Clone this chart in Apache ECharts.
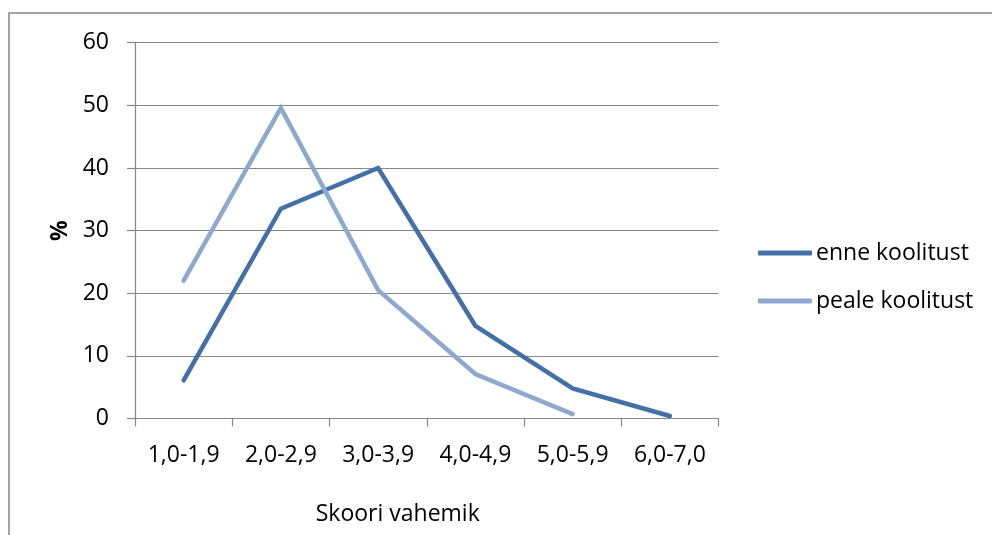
<!DOCTYPE html>
<html>
<head>
<meta charset="utf-8">
<script src="https://cdn.jsdelivr.net/npm/echarts@6/dist/echarts.min.js"></script>
<style>
  html, body { margin: 0; padding: 0; background: #ffffff; }
  #chart { width: 992px; height: 535px; }
</style>
</head>
<body>
<div id="chart"></div>
<script>
// Score ranges and the share (%) of respondents in each range
const categories = ['1,0-1,9', '2,0-2,9', '3,0-3,9', '4,0-4,9', '5,0-5,9', '6,0-7,0'];
const enneKoolitust = [6.1, 33.5, 40.0, 14.8, 4.8, 0.4];
const pealeKoolitust = [22.0, 49.6, 20.5, 7.1, 0.7, null];
const seriesNames = ['enne koolitust', 'peale koolitust'];
const yTicks = { min: 0, max: 60, interval: 10 };

const FONT = '"Open Sans", "Liberation Sans", sans-serif';
const FS = 23;
const GREY = '#878787';

const chart = echarts.init(document.getElementById('chart'), null, { renderer: 'canvas' });

chart.setOption({
  backgroundColor: '#ffffff',
  animation: false,
  textStyle: { fontFamily: FONT, color: '#000000' },
  graphic: [{
    type: 'rect',
    shape: { x: 9, y: 13, width: 1100, height: 700 },
    style: { fill: 'none', stroke: GREY, lineWidth: 1.5 },
    silent: true
  }],
  grid: { left: 135, right: 273.5, top: 42.7, bottom: 116.5, containLabel: false },
  legend: {
    orient: 'vertical',
    left: 758,
    top: 241,
    padding: 0,
    itemWidth: 54,
    itemHeight: 5,
    itemGap: 24,
    icon: 'roundRect',
    data: seriesNames,
    textStyle: { fontFamily: FONT, fontSize: FS, color: '#000000', lineHeight: 24, padding: [0, 0, 0, -1] }
  },
  xAxis: {
    type: 'category',
    data: categories,
    boundaryGap: true,
    name: 'Skoori vahemik',
    nameLocation: 'middle',
    nameGap: 84,
    nameTextStyle: { fontFamily: FONT, fontSize: FS, color: '#000000', padding: [0, 58, 0, 0] },
    axisLine: { lineStyle: { color: GREY, width: 1.2 } },
    axisTick: { show: true, length: 8, lineStyle: { color: GREY, width: 1.2 } },
    axisLabel: { fontFamily: FONT, fontSize: FS, color: '#000000', margin: 25 },
    splitLine: { show: false }
  },
  yAxis: {
    type: 'value',
    min: yTicks.min,
    max: yTicks.max,
    interval: yTicks.interval,
    name: '%',
    nameLocation: 'middle',
    nameGap: 63,
    nameTextStyle: { fontFamily: FONT, fontSize: FS, fontWeight: 'bold', color: '#000000' },
    axisLine: { show: true, lineStyle: { color: GREY, width: 1.2 } },
    axisTick: { show: true, length: 8, lineStyle: { color: GREY, width: 1.2 } },
    axisLabel: { fontFamily: FONT, fontSize: FS, color: '#000000', margin: 26 },
    splitLine: { show: true, lineStyle: { color: GREY, width: 1.2 } }
  },
  series: [
    {
      name: seriesNames[0],
      type: 'line',
      data: enneKoolitust,
      showSymbol: false,
      symbol: 'none',
      color: '#4470a8',
      lineStyle: { width: 4.5, color: '#4470a8', cap: 'round', join: 'miter' },
      z: 2
    },
    {
      name: seriesNames[1],
      type: 'line',
      data: pealeKoolitust,
      showSymbol: false,
      symbol: 'none',
      color: '#8fa8ce',
      lineStyle: { width: 4.5, color: '#8fa8ce', cap: 'round', join: 'miter' },
      z: 3
    }
  ]
});
</script>
</body>
</html>
